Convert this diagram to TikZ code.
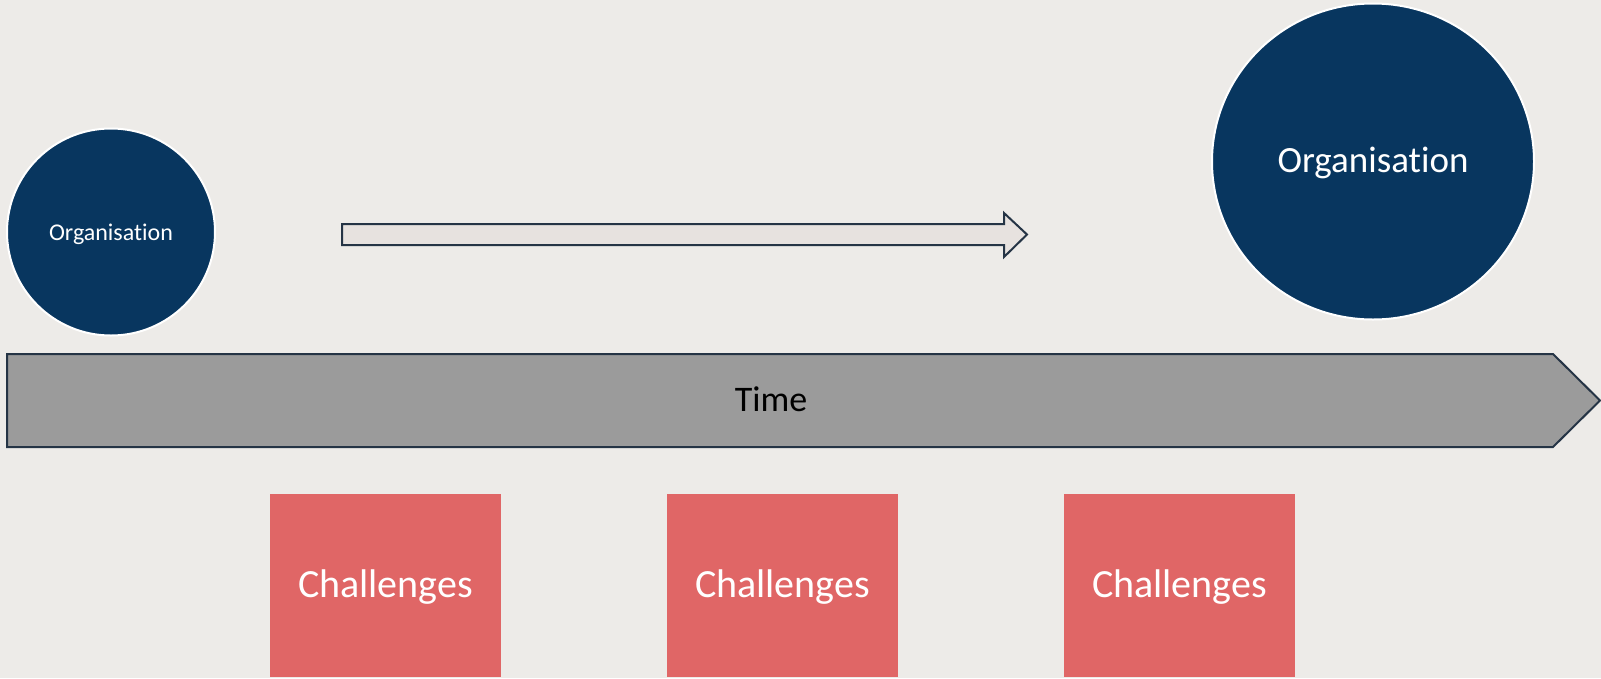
\documentclass[tikz,border=0pt]{standalone}
\usepackage{fontspec}
\setmainfont[Ligatures={NoCommon}]{Carlito}
\usetikzlibrary{shapes.geometric}
\definecolor{bg}{HTML}{EDEBE8}
\definecolor{navy}{HTML}{08365F}
\definecolor{chal}{HTML}{E06666}
\definecolor{timefill}{HTML}{9B9B9B}
\definecolor{edge}{HTML}{253445}
\definecolor{thinfill}{HTML}{E7E2DF}
\tikzset{
  org/.style={ellipse, fill=navy, draw=white, line width=2pt, text=white, inner sep=0pt},
  chalbox/.style={rectangle, fill=chal, text=white, minimum width=231pt, minimum height=183pt, inner sep=0pt, font=\fontsize{40}{48}\selectfont},
  arrowshape/.style={draw=edge, line width=2pt, line join=miter},
}
\begin{document}
\begin{tikzpicture}[x=1pt,y=-1pt]
\fill[bg] (0,0) rectangle (1601,678);
\useasboundingbox (0,0) rectangle (1601,678);
% small and big organisation circles
\node[org, minimum width=208pt, minimum height=207pt] (orgS) at (111,232) {};
\node[font=\fontsize{24}{28}\selectfont, text=white] (orgSt) at ([yshift=-2pt]orgS.center) {Organisation};
\node[org, minimum width=322pt, minimum height=316pt] (orgB) at (1373,161.5) {};
\node[font=\fontsize{37}{44}\selectfont, text=white] (orgBt) at ([yshift=-1pt]orgB.center) {Organisation};
% thin arrow
\draw[arrowshape, fill=thinfill] (342,224) -- (1004,224) -- (1004,213) -- (1027,234.5) -- (1004,257) -- (1004,245) -- (342,245) -- cycle;
% time arrow
\draw[arrowshape, fill=timefill] (7,354) -- (1553,354) -- (1600,400.5) -- (1553,447) -- (7,447) -- cycle;
\node[font=\fontsize{36}{42}\selectfont, text=black] (time) at (771,399) {Time};
% challenges
\node[chalbox] (c1) at (385.5,585.5) {};
\node[chalbox] (c2) at (782.5,585.5) {};
\node[chalbox] (c3) at (1179.5,585.5) {};
\foreach \n in {c1,c2,c3}
  \node[font=\fontsize{40}{48}\selectfont, text=white] (\n t) at ([yshift=-2pt]\n.center) {Challenges};
\end{tikzpicture}
\end{document}
